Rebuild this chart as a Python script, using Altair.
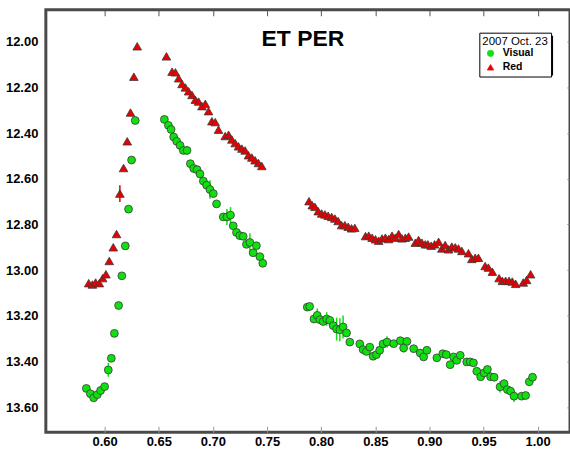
import altair as alt
import pandas as pd

# ---- data (phase, magnitude) ----
vis_x = [0.5831, 0.5868, 0.5899, 0.5933, 0.5963, 0.6000, 0.6034, 0.6062, 0.6090, 0.6129,
         0.6159, 0.6191, 0.6221, 0.6249, 0.6283,
         0.6552, 0.6589, 0.6614, 0.6638, 0.6666, 0.6697, 0.6727, 0.6761, 0.6792, 0.6823,
         0.6854, 0.6881, 0.6912, 0.6942, 0.6973, 0.7004, 0.7034, 0.7096, 0.7130, 0.7163,
         0.7188, 0.7218, 0.7249, 0.7280, 0.7310, 0.7342, 0.7372, 0.7402, 0.7434, 0.7461,
         0.7872, 0.7894, 0.7934, 0.7964, 0.7989, 0.8019, 0.8051, 0.8081, 0.8111, 0.8143,
         0.8173, 0.8203, 0.8235, 0.8265, 0.8357, 0.8388, 0.8419, 0.8449, 0.8480, 0.8511,
         0.8541, 0.8572, 0.8609, 0.8670, 0.8732, 0.8762, 0.8793, 0.8855, 0.8916, 0.8947,
         0.8977, 0.9069, 0.9124, 0.9156, 0.9192, 0.9223, 0.9253, 0.9285, 0.9345, 0.9376,
         0.9407, 0.9438, 0.9474, 0.9506, 0.9536, 0.9566, 0.9598, 0.9653, 0.9690, 0.9720,
         0.9750, 0.9782, 0.9852, 0.9889, 0.9923, 0.9953]
vis_y = [13.518, 13.541, 13.559, 13.545, 13.527, 13.510, 13.437, 13.386, 13.277, 13.155,
         13.025, 12.894, 12.733, 12.518, 12.345,
         12.340, 12.366, 12.384, 12.417, 12.436, 12.454, 12.476, 12.476, 12.534, 12.555,
         12.560, 12.579, 12.610, 12.628, 12.647, 12.665, 12.710, 12.767, 12.767, 12.759,
         12.806, 12.835, 12.849, 12.852, 12.887, 12.879, 12.924, 12.893, 12.941, 12.970,
         13.162, 13.159, 13.214, 13.198, 13.217, 13.225, 13.214, 13.220, 13.243, 13.258,
         13.261, 13.249, 13.275, 13.315, 13.323, 13.348, 13.356, 13.337, 13.377, 13.370,
         13.351, 13.323, 13.315, 13.322, 13.309, 13.341, 13.312, 13.344, 13.363, 13.380,
         13.351, 13.384, 13.366, 13.370, 13.414, 13.380, 13.395, 13.373, 13.402, 13.402,
         13.406, 13.443, 13.467, 13.450, 13.435, 13.467, 13.469, 13.511, 13.497, 13.523,
         13.530, 13.552, 13.552, 13.549, 13.489, 13.469]

red_x = [0.5853, 0.5887, 0.5917, 0.5951, 0.5982, 0.6012, 0.6043, 0.6080, 0.6110, 0.6141,
         0.6175, 0.6209, 0.6239, 0.6270, 0.6301,
         0.6571, 0.6623, 0.6654, 0.6684, 0.6715, 0.6746, 0.6776, 0.6807, 0.6838, 0.6868,
         0.6899, 0.6930, 0.6960, 0.6991, 0.7022, 0.7052, 0.7114, 0.7145, 0.7175, 0.7206,
         0.7237, 0.7268, 0.7298, 0.7329, 0.7360, 0.7390, 0.7421, 0.7452,
         0.7888, 0.7918, 0.7943, 0.7973, 0.8005, 0.8035, 0.8065, 0.8097, 0.8127, 0.8157,
         0.8189, 0.8219, 0.8250, 0.8281, 0.8311, 0.8410, 0.8440, 0.8471, 0.8502, 0.8532,
         0.8563, 0.8594, 0.8624, 0.8655, 0.8686, 0.8716, 0.8747, 0.8778, 0.8808, 0.8870,
         0.8900, 0.8931, 0.8962, 0.8986, 0.9017, 0.9048, 0.9085, 0.9115, 0.9146, 0.9177,
         0.9207, 0.9239, 0.9269, 0.9300, 0.9361, 0.9392, 0.9423, 0.9453, 0.9515, 0.9545,
         0.9582, 0.9644, 0.9674, 0.9704, 0.9736, 0.9766, 0.9797, 0.9867, 0.9898, 0.9935]
red_y = [13.057, 13.063, 13.054, 13.057, 13.035, 13.018, 12.960, 12.900, 12.842, 12.665,
         12.553, 12.436, 12.310, 12.153, 12.020,
         12.064, 12.131, 12.134, 12.160, 12.185, 12.200, 12.217, 12.233, 12.254, 12.262,
         12.282, 12.272, 12.304, 12.348, 12.352, 12.385, 12.413, 12.407, 12.428, 12.444,
         12.458, 12.468, 12.476, 12.497, 12.507, 12.519, 12.531, 12.544,
         12.698, 12.716, 12.723, 12.742, 12.752, 12.756, 12.762, 12.767, 12.774, 12.785,
         12.803, 12.803, 12.810, 12.817, 12.815, 12.851, 12.849, 12.858, 12.865, 12.871,
         12.861, 12.858, 12.864, 12.849, 12.858, 12.842, 12.861, 12.858, 12.853, 12.880,
         12.868, 12.880, 12.887, 12.887, 12.893, 12.887, 12.876, 12.905, 12.890, 12.909,
         12.897, 12.900, 12.905, 12.916, 12.926, 12.951, 12.946, 12.946, 12.982, 12.989,
         13.007, 13.035, 13.047, 13.047, 13.047, 13.050, 13.060, 13.054, 13.043, 13.018]

# error bars (series, phase, magnitude, half-length)
err_series = ["Red", "Visual", "Visual", "Visual", "Visual", "Visual", "Visual", "Visual",
              "Visual", "Visual", "Visual", "Visual", "Visual", "Visual", "Visual", "Visual"]
err_x = [0.6141, 0.6034, 0.6761, 0.6973, 0.7130, 0.7163, 0.7342, 0.7964, 0.8051, 0.8143,
         0.8173, 0.8203, 0.8609, 0.8762, 0.9653, 0.9782]
err_y = [12.665, 13.437, 12.476, 12.647, 12.767, 12.759, 12.879, 13.198, 13.214, 13.258,
         13.261, 13.249, 13.315, 13.341, 13.511, 13.552]
err_e = [0.037, 0.030, 0.020, 0.040, 0.035, 0.035, 0.040, 0.030, 0.030, 0.050,
         0.050, 0.050, 0.025, 0.020, 0.025, 0.025]

x_ticks = [0.60, 0.65, 0.70, 0.75, 0.80, 0.85, 0.90, 0.95, 1.00]
y_ticks = [12.0, 12.2, 12.4, 12.6, 12.8, 13.0, 13.2, 13.4, 13.6]
series = ["Visual", "Red"]
colors = ["#10e010", "#e80000"]
shapes = ["circle", "triangle-up"]
legend_title = "2007 Oct. 23"

df = pd.concat([
    pd.DataFrame({"phase": vis_x, "mag": vis_y, "series": "Visual"}),
    pd.DataFrame({"phase": red_x, "mag": red_y, "series": "Red"}),
], ignore_index=True)
edf = pd.DataFrame({"series": err_series, "phase": err_x, "mag": err_y, "e": err_e})
edf["lo"] = edf["mag"] - edf["e"]
edf["hi"] = edf["mag"] + edf["e"]

FONT = "Liberation Sans"
xscale = alt.Scale(domain=[0.5457, 1.0299], nice=False, zero=False)
yscale = alt.Scale(domain=[11.860, 13.710], reverse=True, nice=False, zero=False)
cscale = alt.Scale(domain=series, range=colors)
sscale = alt.Scale(domain=series, range=shapes)


def make_legend():
    return alt.Legend(title=legend_title, orient="none", legendX=435, legendY=23)


x_bottom = alt.Axis(values=x_ticks, format=".2f", title=None, grid=False, domain=False,
                    tickColor="#999999", tickSize=6, offset=-6, labelPadding=3,
                    labelFont=FONT, labelFontSize=13, labelFontWeight="bold", labelColor="black")
x_top = alt.Axis(values=x_ticks, orient="top", labels=False, title=None, grid=False, domain=False,
                 tickColor="#555555", tickSize=6, offset=-6)
y_left = alt.Axis(values=y_ticks, format=".2f", title=None, grid=False, domain=False,
                  ticks=False, labelPadding=8,
                  labelFont=FONT, labelFontSize=13, labelFontWeight="bold", labelColor="black")
y_right = alt.Axis(values=y_ticks, orient="right", labels=False, title=None, grid=False,
                   domain=False, tickColor="#777777", tickSize=3, offset=-3)

shadow = alt.Chart(pd.DataFrame({"a": [0]})).mark_rect(color="black").encode(
    x=alt.value(438), x2=alt.value(509), y=alt.value(26), y2=alt.value(66))

errs = alt.Chart(edf).mark_rule(strokeWidth=1.5).encode(
    x=alt.X("phase:Q", scale=xscale, axis=x_top),
    y=alt.Y("lo:Q", scale=yscale, axis=y_right),
    y2="hi:Q",
    color=alt.Color("series:N", scale=cscale, sort=series, legend=make_legend()),
)

pts = alt.Chart(df).mark_point(filled=True, opacity=1, stroke="#3a3a3a", strokeWidth=0.8).encode(
    x=alt.X("phase:Q", scale=xscale, axis=x_bottom),
    y=alt.Y("mag:Q", scale=yscale, axis=y_left),
    color=alt.Color("series:N", scale=cscale, sort=series, legend=make_legend()),
    shape=alt.Shape("series:N", scale=sscale, sort=series, legend=make_legend()),
    size=alt.condition(alt.datum.series == "Red", alt.value(75), alt.value(62)),
)

title = alt.Chart(pd.DataFrame({"t": ["ET PER"]})).mark_text(
    font=FONT, fontSize=23, fontWeight="bold", color="black", baseline="alphabetic",
    align="center").encode(text="t:N", x=alt.value(258), y=alt.value(36))

chart = alt.layer(shadow, errs, pts, title).resolve_axis(
    x="independent", y="independent"
).properties(
    width=526, height=424,
    autosize=alt.AutoSizeParams(type="none"),
    padding={"left": 46, "top": 9, "right": 0, "bottom": 19},
    background="white",
).configure_view(
    stroke="#4a4a4a", strokeWidth=3
).configure_legend(
    strokeColor="black", fillColor="white", padding=3, cornerRadius=0,
    titleFont=FONT, titleFontSize=11.5, titleFontWeight="normal", titleColor="black",
    titlePadding=1, labelFont=FONT, labelFontSize=10.5, labelFontWeight="bold",
    labelColor="black", symbolSize=40, symbolStrokeColor="#3a3a3a", symbolStrokeWidth=0.8,
    rowPadding=3, symbolOffset=3, labelOffset=7
)

chart.save("out.html", embed_options={"renderer": "svg", "actions": False})
